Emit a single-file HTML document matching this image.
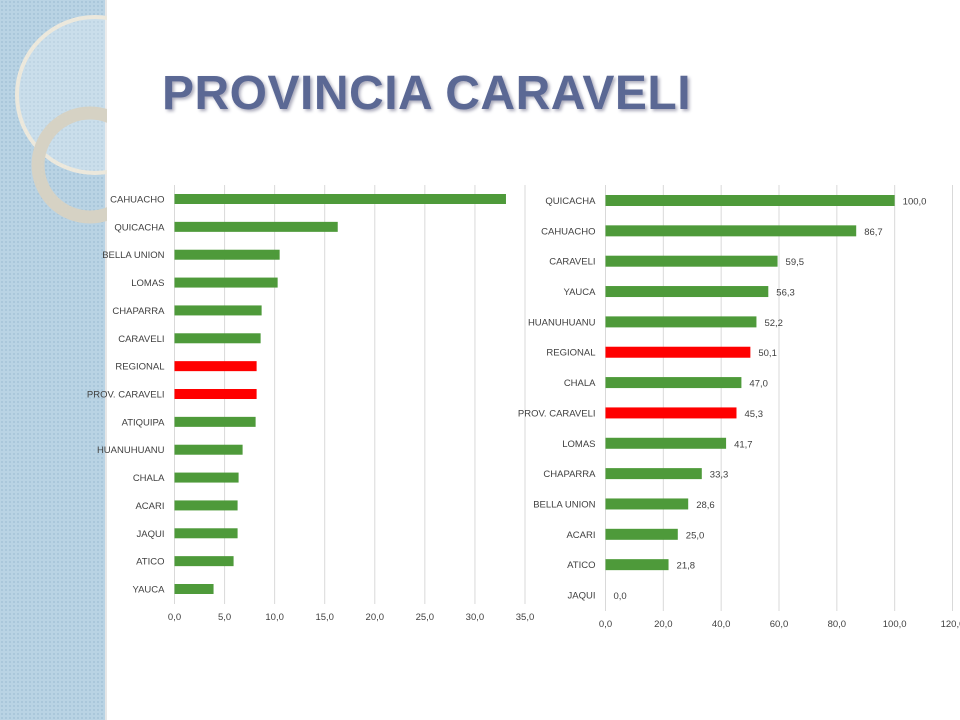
<!DOCTYPE html>
<html><head><meta charset="utf-8">
<style>
body{margin:0;width:960px;height:720px;background:#fff;overflow:hidden;position:relative;font-family:"Liberation Sans",sans-serif;}
#strip{position:absolute;left:0;top:0;width:105px;height:720px;background:#b9d3e4;
background-image:radial-gradient(circle,#a9c6da 1px,transparent 1.2px);background-size:4px 4px;border-right:2px solid #e6e6e6;}
#title{position:absolute;left:162px;top:66px;font-size:48px;font-weight:bold;color:#5b6894;text-shadow:2px 2px 3px #aab;letter-spacing:0.5px;}
svg{position:absolute;left:0;top:0;}
text{font-family:"Liberation Sans",sans-serif;font-size:9.5px;fill:#404040;}
</style></head><body>
<div id="strip"></div>
<svg width="960" height="720">
<circle cx="95" cy="95" r="78" fill="rgba(255,255,255,0.25)" stroke="#ece8dc" stroke-width="4"/>
<circle cx="90" cy="165" r="52" fill="none" stroke="#d6d2c4" stroke-width="13"/>
<rect x="107" y="0" width="853" height="720" fill="#fff"/>
</svg>
<div id="title">PROVINCIA CARAVELI</div>
<svg id="c1" width="960" height="720"></svg>
<svg id="c2" width="960" height="720"></svg>
<script>
const leftCats=["CAHUACHO","QUICACHA","BELLA UNION","LOMAS","CHAPARRA","CARAVELI","REGIONAL","PROV. CARAVELI","ATIQUIPA","HUANUHUANU","CHALA","ACARI","JAQUI","ATICO","YAUCA"];
const leftVals=[33.1,16.3,10.5,10.3,8.7,8.6,8.2,8.2,8.1,6.8,6.4,6.3,6.3,5.9,3.9];
const leftTicks=[0,5,10,15,20,25,30,35];
const rightCats=["QUICACHA","CAHUACHO","CARAVELI","YAUCA","HUANUHUANU","REGIONAL","CHALA","PROV. CARAVELI","LOMAS","CHAPARRA","BELLA UNION","ACARI","ATICO","JAQUI"];
const rightVals=[100.0,86.7,59.5,56.3,52.2,50.1,47.0,45.3,41.7,33.3,28.6,25.0,21.8,0.0];
const rightTicks=[0,20,40,60,80,100,120];
const NS="http://www.w3.org/2000/svg";
function mk(svg,tag,attrs,txt){const e=document.createElementNS(NS,tag);for(const k in attrs)e.setAttribute(k,attrs[k]);if(txt!==undefined)e.textContent=txt;svg.appendChild(e);return e;}
function fmt(v){return v.toFixed(1).replace('.',',');}
function draw(svg,cats,vals,ticks,o){
  const xs=v=>o.x0+(v-ticks[0])/(ticks[ticks.length-1]-ticks[0])*(o.x1-o.x0);
  const step=(o.yLast-o.yFirst)/(cats.length-1);
  const ys=i=>o.yFirst+i*step;
  ticks.forEach(t=>{
    const l=mk(svg,'line',{x1:xs(t),x2:xs(t),y1:o.top,y2:o.bottom,stroke:'#d9d9d9','stroke-width':1});
    
    
    const tx=mk(svg,'text',{x:xs(t),y:o.tickY,'text-anchor':'middle'},t.toFixed(1).replace('.',','));
    
    
  });
  cats.forEach((c,i)=>{
    const red=(c==="REGIONAL"||c==="PROV. CARAVELI");
    const r=mk(svg,'rect',{x:xs(0),y:ys(i)-o.bh/2,width:Math.max(0,xs(vals[i])-xs(0)),height:o.bh,fill:red?'#ff0000':'#4e9a3a'});
    
    
    const lb=mk(svg,'text',{x:o.x0-10,y:ys(i)+3.5,'text-anchor':'end'},c);
    
    
    if(o.values){
      const vl=mk(svg,'text',{x:xs(vals[i])+8,y:ys(i)+4},fmt(vals[i]));
      
      
    }
  });
}
draw(document.getElementById('c1'),leftCats,leftVals,leftTicks,{x0:174.5,x1:525,top:185,bottom:604,yFirst:199,yLast:589,bh:10,tickY:620,values:false});
draw(document.getElementById('c2'),rightCats,rightVals,rightTicks,{x0:605.5,x1:952.5,top:185,bottom:611,yFirst:200.5,yLast:595,bh:11,tickY:627,values:true});
</script>
</body></html>
